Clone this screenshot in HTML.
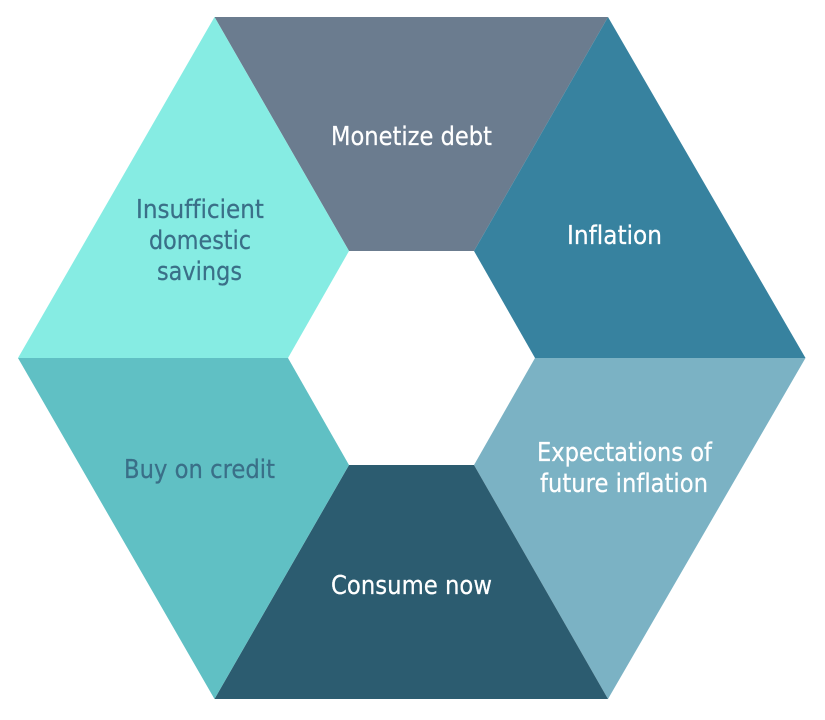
<!DOCTYPE html>
<html>
<head>
<meta charset="utf-8">
<style>
html,body{margin:0;padding:0;background:#fff;width:825px;height:720px;overflow:hidden}
svg{display:block}
text{font-family:"DejaVu Sans","Liberation Sans",sans-serif;font-size:26px;font-variant-ligatures:none;stroke-width:.25px}
.w{fill:#fff;stroke:#fff}
.d{fill:#3a6f88;stroke:#3a6f88}
</style>
</head>
<body>
<svg width="825" height="720" viewBox="0 0 825 720" xmlns="http://www.w3.org/2000/svg">
<rect width="825" height="720" fill="#fff"/>
<polygon points="214.5,17 608,17 474,251 349,251" fill="#6b7c8f"/>
<polygon points="608,17 805.5,358 535,358 474,251" fill="#37829f"/>
<polygon points="805.5,358 608,699 474,465 535,358" fill="#7bb2c4"/>
<polygon points="608,699 214.5,699 349,465 474,465" fill="#2c5c70"/>
<polygon points="214.5,699 18,358 288,358 349,465" fill="#60c0c4"/>
<polygon points="18,358 214.5,17 349,251 288,358" fill="#86ece3"/>
<text class="w" x="331" y="145" textLength="161" lengthAdjust="spacingAndGlyphs">Monetize debt</text>
<text class="w" x="567" y="244" textLength="95" lengthAdjust="spacingAndGlyphs">Inflation</text>
<text class="w" x="537" y="461" textLength="175" lengthAdjust="spacingAndGlyphs">Expectations of</text>
<text class="w" x="540" y="492" textLength="168" lengthAdjust="spacingAndGlyphs">future inflation</text>
<text class="w" x="331" y="594" textLength="161" lengthAdjust="spacingAndGlyphs">Consume now</text>
<text class="d" x="124" y="478" textLength="151" lengthAdjust="spacingAndGlyphs">Buy on credit</text>
<text class="d" x="136" y="218" textLength="128" lengthAdjust="spacingAndGlyphs">Insufficient</text>
<text class="d" x="149" y="249" textLength="102" lengthAdjust="spacingAndGlyphs">domestic</text>
<text class="d" x="157" y="280" textLength="85" lengthAdjust="spacingAndGlyphs">savings</text>
</svg>
</body>
</html>
